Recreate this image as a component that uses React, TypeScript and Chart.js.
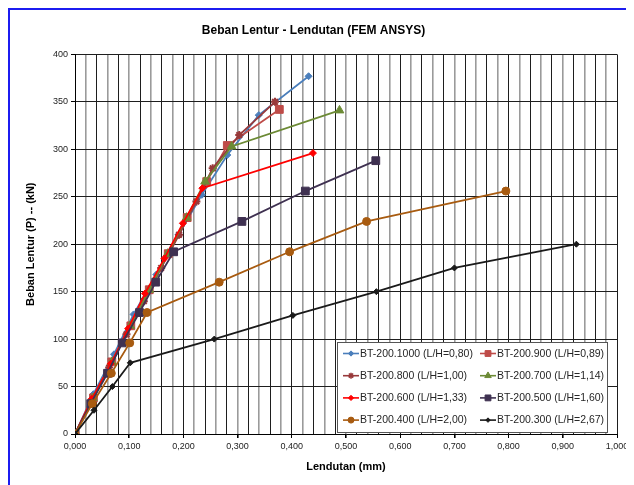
import React, { useEffect, useRef } from "react";
import { Chart, registerables } from "chart.js";
import { drawPoint } from "chart.js/helpers";

Chart.register(...registerables);

const seriesNames = [
  "BT-200.1000 (L/H=0,80)",
  "BT-200.900 (L/H=0,89)",
  "BT-200.800 (L/H=1,00)",
  "BT-200.700 (L/H=1,14)",
  "BT-200.600 (L/H=1,33)",
  "BT-200.500 (L/H=1,60)",
  "BT-200.400 (L/H=2,00)",
  "BT-200.300 (L/H=2,67)",
];

// deflection (mm) / load (kN)
const x1000 = [0, 0.034, 0.072, 0.108, 0.150, 0.191, 0.234, 0.281, 0.339, 0.431];
const y1000 = [0, 42, 84, 126, 168, 210, 252, 294, 336, 377];
const x900 = [0, 0.034, 0.068, 0.103, 0.137, 0.172, 0.207, 0.243, 0.281, 0.377];
const y900 = [0, 38, 76, 114, 152, 190, 228, 266, 304, 342];
const x800 = [0, 0.031, 0.063, 0.095, 0.127, 0.159, 0.192, 0.224, 0.254, 0.303, 0.369];
const y800 = [0, 35, 70, 105, 140, 175, 210, 245, 280, 315, 350];
const x700 = [0, 0.033, 0.068, 0.102, 0.137, 0.171, 0.206, 0.240, 0.289, 0.488];
const y700 = [0, 38, 76, 114, 152, 190, 228, 266, 303, 341];
const x600 = [0, 0.031, 0.066, 0.098, 0.129, 0.165, 0.199, 0.235, 0.439];
const y600 = [0, 37, 74, 111, 148, 185, 222, 259, 296];
const x500 = [0, 0.029, 0.06, 0.087, 0.119, 0.149, 0.182, 0.308, 0.425, 0.555];
const y500 = [0, 32, 64, 96, 128, 160, 192, 224, 256, 288];
const x400 = [0, 0.032, 0.067, 0.101, 0.133, 0.266, 0.396, 0.538, 0.795];
const y400 = [0, 32, 64, 96, 128, 160, 192, 224, 256];
const x300 = [0, 0.035, 0.069, 0.102, 0.257, 0.402, 0.556, 0.70, 0.925];
const y300 = [0, 25, 50, 75, 100, 125, 150, 175, 200];

const xValues = [x1000, x900, x800, x700, x600, x500, x400, x300];
const yValues = [y1000, y900, y800, y700, y600, y500, y400, y300];

const colors = ["#4a7ebb", "#be4b48", "#98393a", "#6c8a35", "#ff0000", "#3f3151", "#a85b10", "#1a1a1a"];
const pointStyles = ["rectRot", "rect", "star", "triangle", "rectRot", "rect", "circle", "rectRot"];
const pointRadii = [3.5, 5.5, 4, 5, 3.5, 5.5, 4, 3];

const xTickMin = 0;
const xTickMax = 1;
const yTickMin = 0;
const yTickMax = 400;

const FONT = "'Liberation Sans', Arial, sans-serif";

const legendPlugin = {
  id: "boxLegend",
  afterDraw(chart: any) {
    const { ctx, chartArea } = chart;
    const w = 270;
    const h = 90;
    const left = Math.round(chartArea.right - 10 - w);
    const top = Math.round(chartArea.bottom - 2 - h);
    ctx.save();
    ctx.fillStyle = "#ffffff";
    ctx.fillRect(left, top, w, h);
    ctx.strokeStyle = "#555555";
    ctx.lineWidth = 1;
    ctx.strokeRect(left + 0.5, top + 0.5, w, h);
    ctx.font = "10.5px " + FONT;
    ctx.textBaseline = "middle";
    ctx.textAlign = "left";
    chart.data.datasets.forEach((ds: any, i: number) => {
      const col = i % 2;
      const row = Math.floor(i / 2);
      const x0 = left + (col ? 143 : 6);
      const y = top + 11.5 + row * 22.2;
      ctx.strokeStyle = ds.borderColor;
      ctx.fillStyle = ds.borderColor;
      ctx.lineWidth = 1.6;
      ctx.beginPath();
      ctx.moveTo(x0, y);
      ctx.lineTo(x0 + 16, y);
      ctx.stroke();
      ctx.lineWidth = ds.pointStyle === "star" ? 1.5 : 1;
      drawPoint(ctx, { pointStyle: ds.pointStyle, radius: ds.pointRadius * 0.75, rotation: 0, borderWidth: 1 }, x0 + 8, y);
      ctx.fillStyle = "#262626";
      ctx.fillText(seriesNames[i], x0 + 17, y + 0.5);
    });
    ctx.restore();
  },
};

function isMajor(v: number) {
  return Math.abs(v * 10 - Math.round(v * 10)) < 1e-6;
}

export default function App() {
  const ref = useRef<HTMLCanvasElement | null>(null);

  useEffect(() => {
    if (!ref.current) return;
    const datasets = seriesNames.map((name, i) => ({
      label: name,
      data: xValues[i].map((x, k) => ({ x, y: yValues[i][k] })),
      borderColor: colors[i],
      backgroundColor: colors[i],
      pointBackgroundColor: colors[i],
      pointBorderColor: colors[i],
      pointStyle: pointStyles[i],
      pointRadius: pointRadii[i],
      pointBorderWidth: pointStyles[i] === "star" ? 2 : 1,
      borderWidth: 1.8,
      showLine: true,
      fill: false,
      order: 8 - i,
    }));

    const chart = new Chart(ref.current, {
      type: "scatter",
      data: { datasets },
      options: {
        responsive: false,
        animation: false,
        layout: { padding: { left: 0, right: 17, top: 0, bottom: 0 } },
        font: { family: FONT },
        plugins: {
          legend: { display: false },
          tooltip: { enabled: false },
          title: {
            display: true,
            text: "Beban Lentur - Lendutan (FEM ANSYS)",
            color: "#000",
            font: { family: FONT, size: 12, weight: "bold" },
            padding: { top: 13, bottom: 17 },
          },
        },
        scales: {
          x: {
            type: "linear",
            min: xTickMin,
            max: xTickMax,
            afterFit: (s: any) => {
              s.height = 51;
            },
            ticks: {
              stepSize: 0.02,
              autoSkip: false,
              maxRotation: 0,
              padding: 3,
              color: "#222",
              font: { family: FONT, size: 9 },
              callback: (v: any) => (isMajor(Number(v)) ? Number(v).toFixed(3).replace(".", ",") : ""),
            },
            grid: {
              color: (c: any) => (c.index % 2 ? "#9a9a9a" : "#1e1e1e"),
              lineWidth: (c: any) => (c.index % 2 ? 1.6 : 1),
              tickLength: 4,
              tickColor: (c: any) => (c.tick && isMajor(c.tick.value) ? "#000" : "rgba(0,0,0,0)"),
            },
            border: { color: "#000", width: 1 },
            title: {
              display: true,
              text: "Lendutan (mm)",
              color: "#000",
              font: { family: FONT, size: 11, weight: "bold" },
              padding: { top: 0, bottom: 11 },
            },
          },
          y: {
            type: "linear",
            min: yTickMin,
            max: yTickMax,
            afterFit: (s: any) => {
              s.width = 65;
            },
            ticks: {
              stepSize: 50,
              padding: 3,
              color: "#222",
              font: { family: FONT, size: 9 },
            },
            grid: {
              color: "#1e1e1e",
              lineWidth: 1,
              tickLength: 4,
              tickColor: "#000",
            },
            border: { color: "#000", width: 1 },
            title: {
              display: true,
              text: "Beban Lentur (P) -- (kN)",
              color: "#000",
              font: { family: FONT, size: 11, weight: "bold" },
              padding: { top: 14, bottom: 0 },
            },
          },
        },
      },
      plugins: [legendPlugin],
    });
    return () => chart.destroy();
  }, []);

  return (
    <div
      style={{
        width: 626,
        height: 477,
        borderTop: "2px solid #1c1cf0",
        borderLeft: "2px solid #1c1cf0",
        boxSizing: "border-box",
        background: "#fff",
      }}
    >
      <canvas ref={ref} width={624} height={475} style={{ display: "block", width: 624, height: 475 }} />
    </div>
  );
}
